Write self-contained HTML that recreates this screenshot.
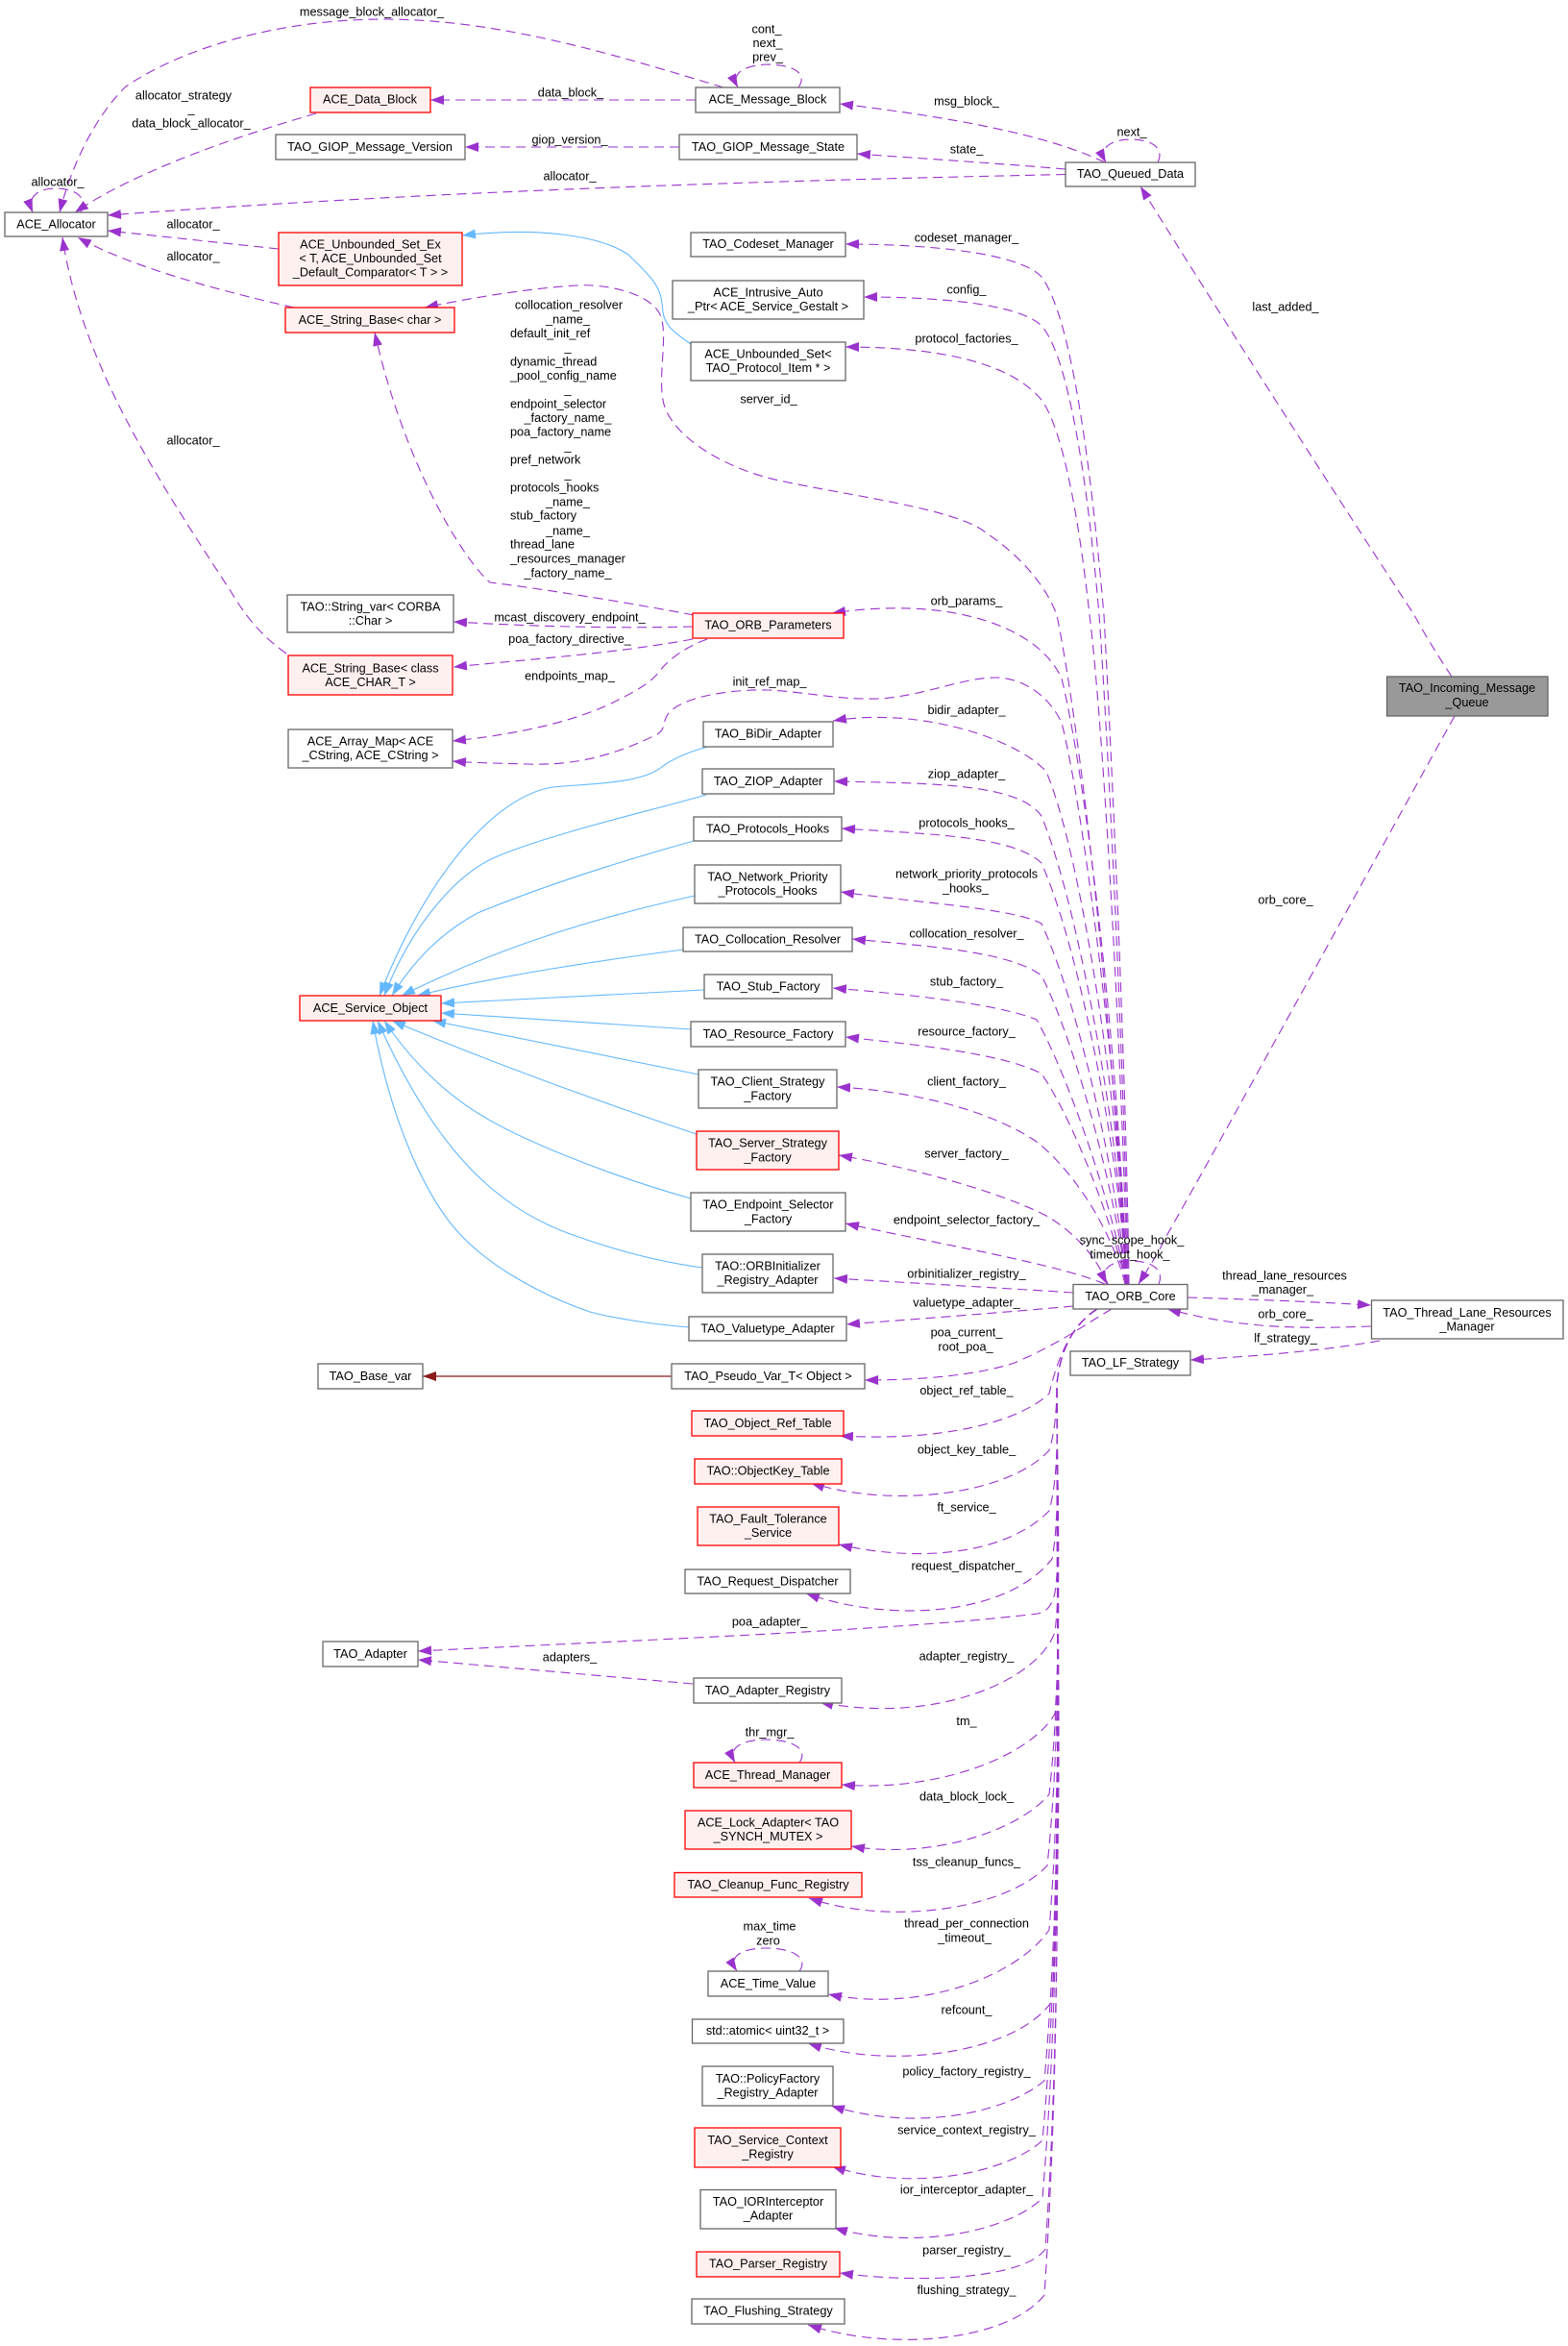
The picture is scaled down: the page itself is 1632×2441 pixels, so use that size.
<!DOCTYPE html>
<html><head><meta charset="utf-8"><title>TAO_Incoming_Message_Queue</title>
<style>
html,body{margin:0;padding:0;background:#fff}
svg{display:block}
text{font-family:"Liberation Sans",Arial,sans-serif;font-size:12.7px;fill:#000;text-anchor:middle}
.l text{text-anchor:start}
.n rect{fill:#fff;stroke:#666;stroke-width:1.3}
.r rect{fill:#fff0f0;stroke:#f00;stroke-width:1.3}
.g rect{fill:#999;stroke:#666;stroke-width:1.3}
.d path{fill:none;stroke:#9a32cd;stroke-width:1.1;stroke-dasharray:10 6;marker-end:url(#ap)}
.b path{fill:none;stroke:#63b8ff;stroke-width:1.1;marker-end:url(#ab)}
</style></head><body>
<svg width="1632" height="2441" viewBox="0 0 1632 2441" xmlns="http://www.w3.org/2000/svg">
<defs>
<marker id="ap" markerUnits="userSpaceOnUse" markerWidth="15" markerHeight="11" refX="14" refY="5" orient="auto"><path d="M0,0L14,5L0,10z" fill="#9a32cd"/></marker>
<marker id="ab" markerUnits="userSpaceOnUse" markerWidth="15" markerHeight="11" refX="14" refY="5" orient="auto"><path d="M0,0L14,5L0,10z" fill="#63b8ff"/></marker>
<marker id="ar" markerUnits="userSpaceOnUse" markerWidth="15" markerHeight="11" refX="14" refY="5" orient="auto"><path d="M0,0L14,5L0,10z" fill="#8b1a1a"/></marker>
</defs>
<rect width="1632" height="2441" fill="#fff"/>

<g class="b">
<path d="M719,358C700,345 692,338 690,325C688,300 685,295 654,265C625,245 560,236 481,245"/>
<path d="M736,777C715,783 700,790 690,797C670,815 620,815 575,819C510,830 440,920 395,1036"/>
<path d="M735,827C680,843 570,868 513,893C470,913 425,970 400,1036"/>
<path d="M722,875C650,895 570,920 497,950C460,970 430,1000 408,1036"/>
<path d="M723,932C620,955 520,985 418,1036"/>
<path d="M711,988C620,1000 520,1015 434,1036"/>
<path d="M733,1030L459,1044"/>
<path d="M719,1071L459,1054"/>
<path d="M727,1118L450,1062"/>
<path d="M725,1180C620,1145 510,1105 408,1062"/>
<path d="M719,1247C630,1222 540,1185 497,1158C460,1135 425,1100 400,1062"/>
<path d="M731,1319C680,1312 630,1298 583,1280C510,1250 450,1190 393,1062"/>
<path d="M717,1381C680,1378 640,1372 614,1365C570,1350 510,1320 475,1280C440,1240 405,1160 388,1062"/>
</g>
<path d="M699,1432H440" fill="none" stroke="#8b1a1a" stroke-width="1.2" marker-end="url(#ar)"/>

<g class="d">
<path d="M753,91C640,57 520,20 400,20C290,20 190,50 131,90C100,120 75,170 62,221"/>
<path d="M329,118C260,138 145,175 78,221"/>
<path d="M84,221C92,205 78,196 58,196C42,196 27,203 34,221"/>
<path d="M1109,181.5C900,186 500,195 112,224"/>
<path d="M290,259L112,240"/>
<path d="M306,320C240,305 140,280 81,247"/>
<path d="M298,680C270,660 255,640 240,615C165,500 85,380 65,247"/>
<path d="M724,104H448"/>
<path d="M707,153H484"/>
<path d="M831,91C840,78 830,68 800,67C785,67 758,72 768,91"/>
<path d="M1150,169C1090,140 990,122 874,108"/>
<path d="M1109,176C1040,170 960,165 892,160"/>
<path d="M1205,169C1212,155 1200,145 1177,145C1160,145 1142,152 1151,169"/>
<path d="M1511,704C1495,680 1480,655 1472,640C1400,530 1265,320 1187,194"/>
<path d="M1514,745C1400,950 1280,1170 1213,1288C1205,1305 1195,1320 1185,1336"/>
<path d="M1236,1350C1300,1352 1360,1354 1427,1358"/>
<path d="M1427,1380C1350,1383 1290,1382 1215,1362"/>
<path d="M1436,1395C1380,1405 1310,1411 1239,1415"/>
<path d="M1206,1336C1212,1322 1200,1312 1177,1312C1160,1312 1143,1318 1152,1336"/>

<path d="M1175,1336C1172,1100 1155,750 1149,640C1135,480 1115,330 1084,288C1060,262 960,254 880,254"/>
<path d="M1174,1336C1170,1100 1152,750 1144,640C1132,500 1112,370 1084,339C1060,315 970,309 899,309"/>
<path d="M1173,1336C1168,1100 1148,750 1134,640C1122,530 1105,445 1084,416C1050,375 970,361 880,361"/>
<path d="M1172,1336C1160,1100 1130,790 1100,640C1085,600 1050,570 1027,555C1000,530 880,515 816,501C750,488 695,450 690,416C685,390 695,350 688,330C680,305 630,295 600,297C550,300 490,310 442,320"/>
<path d="M1172,1336C1168,1150 1135,830 1105,706C1080,650 985,620 866,638"/>
<path d="M1172,1336C1170,1180 1130,850 1105,752C1090,720 1060,705 1037,705C1000,705 960,725 913,727C870,728 840,720 800,718C760,717 710,725 696,742C688,752 695,760 680,766C640,785 600,797 549,795C520,794 495,794 471,792"/>
<path d="M1172,1336C1170,1200 1130,900 1089,803C1060,770 960,735 867,750"/>
<path d="M1172,1336C1168,1200 1125,950 1084,849C1060,815 970,815 868,813"/>
<path d="M1172,1336C1168,1220 1125,990 1084,898C1055,870 970,868 876,862"/>
<path d="M1172,1336C1165,1240 1125,1050 1084,961C1055,945 960,940 875,928"/>
<path d="M1172,1336C1165,1260 1122,1090 1084,1015C1050,990 970,985 887,977"/>
<path d="M1172,1336C1162,1270 1115,1125 1079,1061C1040,1045 950,1035 867,1028"/>
<path d="M1172,1336C1160,1280 1120,1170 1084,1117C1040,1095 950,1087 880,1079"/>
<path d="M1171,1336C1160,1290 1125,1225 1079,1188C1030,1155 950,1135 871,1131"/>
<path d="M1153,1336C1140,1305 1115,1280 1089,1265C1040,1240 950,1215 873,1202"/>
<path d="M1150,1336C1100,1315 980,1295 880,1273"/>
<path d="M1117,1345C1040,1340 950,1335 868,1330"/>
<path d="M1117,1359C1040,1366 960,1372 881,1378"/>
<path d="M1157,1362C1135,1375 1120,1385 1108,1392C1085,1405 1070,1412 1056,1418C1020,1430 965,1436 900,1436"/>

<path d="M1142,1362C1120,1376 1104,1400 1092,1450C1060,1480 980,1500 874,1494"/>
<path d="M1142,1362C1120,1376 1104,1400 1100,1440C1100,1465 1098,1490 1092,1509C1050,1555 930,1570 844,1543"/>
<path d="M1142,1362C1120,1376 1104,1400 1100,1440C1100,1490 1102,1535 1092,1572C1045,1620 950,1625 873,1607"/>
<path d="M1142,1362C1120,1376 1104,1400 1100,1440C1100,1510 1103,1580 1095,1622C1050,1680 930,1690 839,1658"/>
<path d="M1142,1362C1120,1376 1104,1400 1100,1440C1100,1530 1104,1620 1098,1657C1095,1670 1090,1677 1080,1679C950,1695 700,1705 435,1718"/>
<path d="M1142,1362C1120,1376 1104,1400 1100,1440C1100,1545 1105,1640 1098,1698C1080,1750 970,1795 853,1771"/>
<path d="M1142,1362C1120,1376 1104,1400 1100,1440C1100,1580 1105,1700 1098,1783C1075,1825 980,1865 876,1857"/>
<path d="M1142,1362C1120,1376 1104,1400 1100,1440C1100,1610 1106,1740 1092,1867C1060,1905 970,1935 886,1921"/>
<path d="M1142,1362C1120,1376 1104,1400 1100,1440C1100,1640 1106,1790 1090,1941C1050,1985 930,2005 842,1975"/>
<path d="M1142,1362C1120,1376 1104,1400 1100,1440C1100,1667 1106,1838 1092,2008C1060,2055 960,2095 862,2075"/>
<path d="M1142,1362C1120,1376 1104,1400 1100,1440C1100,1697 1107,1890 1095,2082C1060,2135 930,2155 841,2126"/>
<path d="M1142,1362C1120,1376 1104,1400 1100,1440C1100,1730 1106,1950 1087,2165C1045,2200 950,2218 865,2191"/>
<path d="M1142,1362C1120,1376 1104,1400 1100,1440C1100,1755 1106,2000 1085,2227C1050,2260 950,2282 866,2254"/>
<path d="M1142,1362C1120,1376 1104,1400 1100,1440C1100,1780 1106,2040 1085,2287C1050,2322 950,2342 868,2318"/>
<path d="M1142,1362C1120,1376 1104,1400 1100,1440C1100,1800 1106,2080 1088,2340C1070,2368 970,2378 874,2365"/>
<path d="M1142,1362C1120,1376 1104,1400 1100,1440C1100,1820 1106,2105 1087,2388C1050,2435 930,2448 841,2419"/>

<path d="M721,652C640,654 560,652 472,647"/>
<path d="M721,665C640,680 550,686 472,694"/>
<path d="M722,640C660,628 560,612 510,606C480,580 420,480 390,346"/>
<path d="M736,665C712,674 700,684 690,694C680,708 670,715 640,730C590,755 520,766 471,771"/>
<path d="M721,1752L435,1727"/>
<path d="M832,1834C842,1820 825,1810 797,1810C780,1810 755,1815 765,1834"/>
<path d="M832,2051C842,2037 825,2027 797,2027C780,2027 755,2032 767,2051"/>
</g>

<g class="n">
<rect x="5" y="221" width="107" height="25"/>
<rect x="287" y="140" width="197" height="26"/>
<rect x="724" y="91" width="150" height="26"/>
<rect x="707" y="140" width="185" height="26"/>
<rect x="1109" y="169" width="135" height="25"/>
<rect x="719" y="242" width="161" height="25"/>
<rect x="700" y="292" width="199" height="40"/>
<rect x="719" y="356" width="161" height="40"/>
<rect x="299" y="619" width="173" height="39"/>
<rect x="300" y="759" width="171" height="40"/>
<rect x="732" y="751" width="135" height="26"/>
<rect x="731" y="800" width="137" height="26"/>
<rect x="722" y="850" width="154" height="25"/>
<rect x="723" y="900" width="152" height="40"/>
<rect x="711" y="965" width="176" height="25"/>
<rect x="733" y="1014" width="133" height="25"/>
<rect x="719" y="1063" width="161" height="26"/>
<rect x="727" y="1113" width="144" height="40"/>
<rect x="719" y="1241" width="161" height="40"/>
<rect x="731" y="1305" width="136" height="40"/>
<rect x="717" y="1370" width="164" height="25"/>
<rect x="699" y="1419" width="201" height="26"/>
<rect x="331" y="1419" width="109" height="26"/>
<rect x="713" y="1633" width="172" height="25"/>
<rect x="336" y="1708" width="99" height="26"/>
<rect x="722" y="1746" width="154" height="26"/>
<rect x="737" y="2051" width="125" height="26"/>
<rect x="720.5" y="2101" width="157.5" height="25"/>
<rect x="731" y="2150" width="136" height="41"/>
<rect x="729" y="2278.5" width="141" height="40.5"/>
<rect x="720" y="2392" width="159" height="26"/>
<rect x="1117" y="1336.5" width="119" height="25.5"/>
<rect x="1427.5" y="1353" width="199.5" height="40"/>
<rect x="1114" y="1406" width="125" height="25"/>
</g>
<g class="r">
<rect x="323" y="91" width="125" height="26"/>
<rect x="290" y="242" width="191" height="55"/>
<rect x="297" y="320" width="176" height="26"/>
<rect x="721" y="638" width="157" height="26"/>
<rect x="300" y="682" width="171" height="41"/>
<rect x="725" y="1177" width="148" height="40"/>
<rect x="312" y="1036" width="147" height="26"/>
<rect x="720" y="1468" width="158" height="26"/>
<rect x="723" y="1518" width="153" height="26"/>
<rect x="726" y="1568" width="147" height="40"/>
<rect x="722" y="1834" width="154" height="26"/>
<rect x="713" y="1884" width="173" height="40"/>
<rect x="702" y="1948.5" width="195" height="25.5"/>
<rect x="723" y="2214" width="152" height="41"/>
<rect x="725" y="2343" width="149" height="26"/>
</g>
<g class="g"><rect x="1443.5" y="704" width="167.5" height="41"/></g>

<g transform="translate(0,4.4)">
<text x="58.5" y="233">ACE_Allocator</text>
<text x="385" y="103">ACE_Data_Block</text>
<text x="385" y="152.5">TAO_GIOP_Message_Version</text>
<text x="799" y="103">ACE_Message_Block</text>
<text x="799.5" y="152.5">TAO_GIOP_Message_State</text>
<text x="1176.5" y="180.5">TAO_Queued_Data</text>
<text x="799.5" y="253.5">TAO_Codeset_Manager</text>
<text x="799.5" y="304">ACE_Intrusive_Auto</text><text x="799.5" y="318.5">_Ptr&lt; ACE_Service_Gestalt &gt;</text>
<text x="799.5" y="368">ACE_Unbounded_Set&lt;</text><text x="799.5" y="382.5">TAO_Protocol_Item * &gt;</text>
<text x="385.5" y="254">ACE_Unbounded_Set_Ex</text><text x="385.5" y="268.5">&lt; T, ACE_Unbounded_Set</text><text x="385.5" y="283">_Default_Comparator&lt; T &gt; &gt;</text>
<text x="385" y="332.5">ACE_String_Base&lt; char &gt;</text>
<text x="385.5" y="631">TAO::String_var&lt; CORBA</text><text x="385.5" y="645.5">::Char &gt;</text>
<text x="799.5" y="650">TAO_ORB_Parameters</text>
<text x="385.5" y="695">ACE_String_Base&lt; class</text><text x="385.5" y="709.5">ACE_CHAR_T &gt;</text>
<text x="385.5" y="771">ACE_Array_Map&lt; ACE</text><text x="385.5" y="785.5">_CString, ACE_CString &gt;</text>
<text x="799.5" y="763">TAO_BiDir_Adapter</text>
<text x="799.5" y="812.5">TAO_ZIOP_Adapter</text>
<text x="799" y="862">TAO_Protocols_Hooks</text>
<text x="799" y="912">TAO_Network_Priority</text><text x="799" y="926.5">_Protocols_Hooks</text>
<text x="799" y="977">TAO_Collocation_Resolver</text>
<text x="799.5" y="1026">TAO_Stub_Factory</text>
<text x="799.5" y="1075.5">TAO_Resource_Factory</text>
<text x="799" y="1125">TAO_Client_Strategy</text><text x="799" y="1140">_Factory</text>
<text x="799" y="1189">TAO_Server_Strategy</text><text x="799" y="1204">_Factory</text>
<text x="799.5" y="1253">TAO_Endpoint_Selector</text><text x="799.5" y="1268">_Factory</text>
<text x="385.5" y="1048.5">ACE_Service_Object</text>
<text x="799" y="1317">TAO::ORBInitializer</text><text x="799" y="1331.5">_Registry_Adapter</text>
<text x="799" y="1382">TAO_Valuetype_Adapter</text>
<text x="799.5" y="1431.5">TAO_Pseudo_Var_T&lt; Object &gt;</text>
<text x="385.5" y="1431.5">TAO_Base_var</text>
<text x="799" y="1480.5">TAO_Object_Ref_Table</text>
<text x="799.5" y="1530">TAO::ObjectKey_Table</text>
<text x="799.5" y="1580">TAO_Fault_Tolerance</text><text x="799.5" y="1594.5">_Service</text>
<text x="799" y="1645">TAO_Request_Dispatcher</text>
<text x="385.5" y="1720.5">TAO_Adapter</text>
<text x="799" y="1758.5">TAO_Adapter_Registry</text>
<text x="799" y="1846.5">ACE_Thread_Manager</text>
<text x="799.5" y="1896">ACE_Lock_Adapter&lt; TAO</text><text x="799.5" y="1910.5">_SYNCH_MUTEX &gt;</text>
<text x="799.5" y="1960.5">TAO_Cleanup_Func_Registry</text>
<text x="799.5" y="2063.5">ACE_Time_Value</text>
<text x="799" y="2112.5">std::atomic&lt; uint32_t &gt;</text>
<text x="799" y="2162.5">TAO::PolicyFactory</text><text x="799" y="2177">_Registry_Adapter</text>
<text x="799" y="2226.5">TAO_Service_Context</text><text x="799" y="2241">_Registry</text>
<text x="799.5" y="2290.5">TAO_IORInterceptor</text><text x="799.5" y="2305">_Adapter</text>
<text x="799.5" y="2355">TAO_Parser_Registry</text>
<text x="799.5" y="2404">TAO_Flushing_Strategy</text>
<text x="1176.5" y="1348.5">TAO_ORB_Core</text>
<text x="1527" y="1365.5">TAO_Thread_Lane_Resources</text><text x="1527" y="1380">_Manager</text>
<text x="1176.5" y="1417.5">TAO_LF_Strategy</text>
<text x="1527" y="715.5">TAO_Incoming_Message</text><text x="1527" y="730.5">_Queue</text>

<text x="387" y="12">message_block_allocator_</text>
<text x="191" y="99">allocator_strategy</text><text x="199" y="113">_</text><text x="199" y="128">data_block_allocator_</text>
<text x="60" y="189">allocator_</text>
<text x="594" y="96">data_block_</text>
<text x="593" y="145">giop_version_</text>
<text x="593" y="183">allocator_</text>
<text x="201" y="233">allocator_</text>
<text x="201" y="266.5">allocator_</text>
<text x="201" y="458">allocator_</text>
<text x="798" y="30">cont_</text><text x="799" y="44.5">next_</text><text x="799" y="59">prev_</text>
<text x="592" y="317">collocation_resolver</text>
<text x="591" y="332">_name_</text>
<text x="591" y="361">_</text>
<text x="591" y="405">_</text>
<text x="591" y="434.7">_factory_name_</text>
<text x="591" y="464">_</text>
<text x="591" y="493">_</text>
<text x="591" y="522">_name_</text>
<text x="591" y="552">_name_</text>
<text x="591" y="596">_factory_name_</text>
<g class="l">
<text x="531" y="346.5">default_init_ref</text>
<text x="531" y="376">dynamic_thread</text>
<text x="531" y="390.6">_pool_config_name</text>
<text x="531" y="420">endpoint_selector</text>
<text x="531" y="449">poa_factory_name</text>
<text x="531" y="478">pref_network</text>
<text x="531" y="507">protocols_hooks</text>
<text x="531" y="536">stub_factory</text>
<text x="531" y="566">thread_lane</text>
<text x="531" y="581">_resources_manager</text>
</g>
<text x="593" y="642">mcast_discovery_endpoint_</text>
<text x="593" y="664.5">poa_factory_directive_</text>
<text x="593" y="703">endpoints_map_</text>
<text x="801" y="709">init_ref_map_</text>
<text x="1006" y="105">msg_block_</text>
<text x="1006" y="155">state_</text>
<text x="1178" y="137">next_</text>
<text x="1006" y="247">codeset_manager_</text>
<text x="1006" y="301">config_</text>
<text x="1006" y="352">protocol_factories_</text>
<text x="1338" y="319">last_added_</text>
<text x="800" y="415">server_id_</text>
<text x="1006" y="625">orb_params_</text>
<text x="1006" y="738.5">bidir_adapter_</text>
<text x="1006" y="805">ziop_adapter_</text>
<text x="1006" y="856">protocols_hooks_</text>
<text x="1006" y="909">network_priority_protocols</text><text x="1005" y="924">_hooks_</text>
<text x="1006" y="971">collocation_resolver_</text>
<text x="1006" y="1021">stub_factory_</text>
<text x="1006" y="1073">resource_factory_</text>
<text x="1006" y="1125">client_factory_</text>
<text x="1006" y="1200">server_factory_</text>
<text x="1006" y="1269">endpoint_selector_factory_</text>
<text x="1006" y="1325">orbinitializer_registry_</text>
<text x="1006" y="1355">valuetype_adapter_</text>
<text x="1006" y="1386">poa_current_</text><text x="1005" y="1401">root_poa_</text>
<text x="1338" y="936">orb_core_</text>
<text x="1178" y="1290">sync_scope_hook_</text><text x="1176" y="1305">timeout_hook_</text>
<text x="1337" y="1327">thread_lane_resources</text><text x="1335" y="1341.6">_manager_</text>
<text x="1338" y="1367">orb_core_</text>
<text x="1338" y="1392">lf_strategy_</text>
<text x="1006" y="1446.5">object_ref_table_</text>
<text x="1006" y="1508">object_key_table_</text>
<text x="1006" y="1568">ft_service_</text>
<text x="1006" y="1629">request_dispatcher_</text>
<text x="801" y="1687">poa_adapter_</text>
<text x="593" y="1724">adapters_</text>
<text x="1006" y="1723">adapter_registry_</text>
<text x="1006" y="1790.5">tm_</text>
<text x="801" y="1802">thr_mgr_</text>
<text x="1006" y="1869">data_block_lock_</text>
<text x="1006" y="1937">tss_cleanup_funcs_</text>
<text x="1006" y="2001">thread_per_connection</text><text x="1004" y="2016">_timeout_</text>
<text x="1006" y="2091">refcount_</text>
<text x="1006" y="2155">policy_factory_registry_</text>
<text x="1006" y="2216">service_context_registry_</text>
<text x="1006" y="2278">ior_interceptor_adapter_</text>
<text x="1006" y="2341">parser_registry_</text>
<text x="1006" y="2382.5">flushing_strategy_</text>
<text x="801" y="2004">max_time</text><text x="799.5" y="2019">zero</text>
</g>
</svg>
</body></html>
